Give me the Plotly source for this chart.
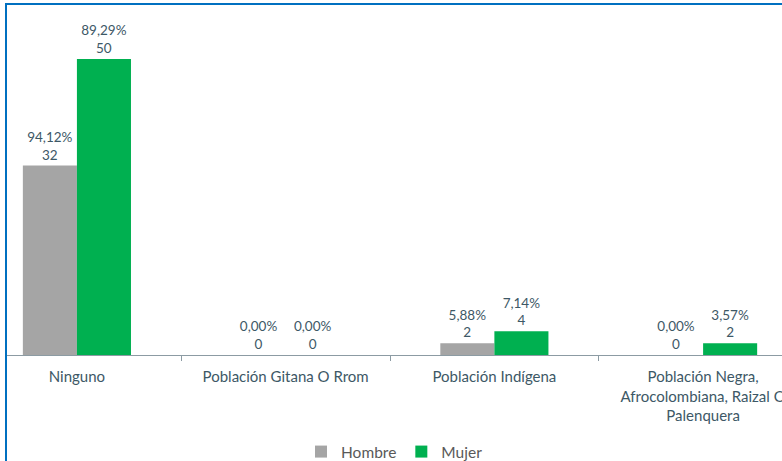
import plotly.graph_objects as go

categories = ["Ninguno", "Población Gitana O Rrom", "Población Indígena",
              "Población Negra,<br>Afrocolombiana, Raizal O<br>Palenquera"]
hombre_values = [32, 0, 2, 0]
mujer_values = [50, 0, 4, 2]
hombre_pct = ["94,12%", "0,00%", "5,88%", "0,00%"]
mujer_pct = ["89,29%", "0,00%", "7,14%", "3,57%"]

W, H = 782, 461
L, R, T, B = 7, 0, 20, 106
plot_w = W - L - R
plot_h = H - T - B

FONT = "Lato, Open Sans, sans-serif"
label_font = dict(family=FONT, size=13.5, color="#3D5866")

fig = go.Figure()
fig.add_trace(go.Bar(
    name="Hombre", x=categories, y=hombre_values,
    marker=dict(color="#A5A5A5", line=dict(width=0)),
    text=[f"{p}<br>{v}" for p, v in zip(hombre_pct, hombre_values)],
    textposition="outside", textfont=label_font, cliponaxis=False,
))
fig.add_trace(go.Bar(
    name="Mujer", x=categories, y=mujer_values,
    marker=dict(color="#00B050", line=dict(width=0)),
    text=[f"{p}<br>{v}" for p, v in zip(mujer_pct, mujer_values)],
    textposition="outside", textfont=label_font, cliponaxis=False,
))

def px_x(p):
    return (p - L) / plot_w

def px_y(p):
    return (H - B - p) / plot_h

fig.update_layout(
    width=W, height=H,
    margin=dict(l=L, r=R, t=T, b=B, autoexpand=False),
    paper_bgcolor="white", plot_bgcolor="white",
    barmode="group", bargap=0.482, bargroupgap=0,
    showlegend=True,
    legend=dict(orientation="h", x=0.5, xanchor="center", y=px_y(452), yanchor="middle",
                font=dict(family=FONT, size=15.5, color="#595959"),
                itemwidth=30, itemsizing="constant", traceorder="normal"),
    xaxis=dict(range=[-0.335, 3.378], showline=True, linecolor="#8C9BA3", linewidth=1,
               ticks="outside", tickson="boundaries", ticklen=5, tickcolor="#8C9BA3",
               ticklabelstandoff=8,
               tickfont=dict(family=FONT, size=15, color="#3D5866"), automargin=False,
               showgrid=False, zeroline=False, fixedrange=True),
    yaxis=dict(range=[0, plot_h / 5.92], visible=False, showgrid=False, zeroline=False,
               automargin=False, fixedrange=True),
    shapes=[
        dict(type="line", xref="paper", yref="paper", x0=px_x(6), x1=px_x(6),
             y0=px_y(3), y1=px_y(470), line=dict(color="#0070C0", width=2)),
        dict(type="line", xref="paper", yref="paper", x0=px_x(5), x1=px_x(790),
             y0=px_y(4), y1=px_y(4), line=dict(color="#0070C0", width=2)),
    ],
)

fig.write_html("out.html", config={"displayModeBar": False},
               post_script="document.body.style.margin='0';document.body.style.overflow='hidden';")
